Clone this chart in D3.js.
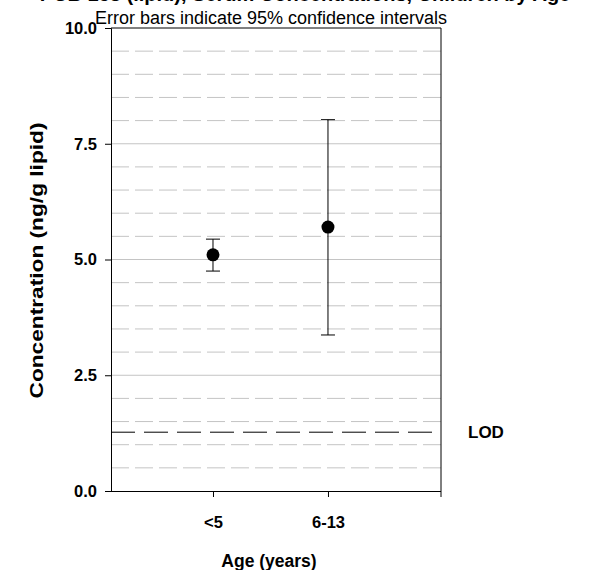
<!DOCTYPE html>
<html>
<head>
<meta charset="utf-8">
<script src="https://cdn.jsdelivr.net/npm/d3@7"></script>
<style>
  body { margin: 0; background: #fff; }
  svg { font-family: "Liberation Sans", Arial, sans-serif; }
</style>
</head>
<body>
<svg id="chart" width="613" height="570"></svg>
<script>
const categories = ["<5", "6-13"];
const means = [5.10, 5.70];
const lower = [4.75, 3.37];
const upper = [5.44, 8.02];
const lod = 1.27;
const yTicks = [0, 2.5, 5, 7.5, 10];
const yTickLabels = ["0.0", "2.5", "5.0", "7.5", "10.0"];
const minorGrid = [0.5, 1, 1.5, 2, 3, 3.5, 4, 4.5, 5.5, 6, 6.5, 7, 8, 8.5, 9, 9.5];
const majorGrid = [2.5, 5, 7.5];
const titleText = "PCB 153 (lipid), Serum Concentrations, Children by Age";
const subtitleText = "Error bars indicate 95% confidence intervals";

const svg = d3.select("#chart");
const L = 111, R = 441, T = 28, B = 491;
const FONT = "Liberation Sans, Arial, sans-serif";

const y = d3.scaleLinear().domain([0, 10]).range([B, T]);
const x = d3.scaleLinear().domain([0.113, 2.983]).range([L, R]);
const xPos = i => x(i + 1);

// gridlines
svg.append("g").selectAll("line").data(minorGrid).join("line")
  .attr("x1", L).attr("x2", R)
  .attr("y1", d => y(d)).attr("y2", d => y(d))
  .attr("stroke", "#c4c4c4").attr("stroke-width", 1)
  .attr("stroke-dasharray", "18,6");
svg.append("g").selectAll("line").data(majorGrid).join("line")
  .attr("x1", L).attr("x2", R)
  .attr("y1", d => y(d)).attr("y2", d => y(d))
  .attr("stroke", "#c4c4c4").attr("stroke-width", 1);

// LOD line
svg.append("line")
  .attr("x1", L).attr("x2", R)
  .attr("y1", y(lod)).attr("y2", y(lod))
  .attr("stroke", "#000").attr("stroke-width", 1)
  .attr("stroke-dasharray", "24,9");
svg.append("text")
  .attr("x", 468).attr("y", y(lod) + 6)
  .attr("font-size", 17).attr("font-weight", "bold")
  .text("LOD");

// frame
svg.append("line").attr("x1", L).attr("x2", R).attr("y1", T).attr("y2", T).attr("stroke", "#000");
svg.append("line").attr("x1", R).attr("x2", R).attr("y1", T).attr("y2", B).attr("stroke", "#000");

// y axis
const yAxis = d3.axisLeft(y).tickValues(yTicks)
  .tickFormat((d, i) => yTickLabels[i]).tickSize(6).tickPadding(8);
const gy = svg.append("g").attr("transform", `translate(${L},0)`).call(yAxis);
gy.select(".domain").attr("stroke", "#000");
gy.selectAll("text").attr("font-size", 16.5).attr("font-weight", "bold")
  .attr("font-family", FONT).attr("fill", "#000");

// x axis
const xAxis = d3.axisBottom(x).tickValues([1, 2])
  .tickFormat((d, i) => categories[i]).tickSize(6).tickPadding(19);
const gx = svg.append("g").attr("transform", `translate(0,${B})`).call(xAxis);
gx.select(".domain").attr("d", `M${L},0.5H${R}`).attr("stroke", "#000");
gx.selectAll("text").attr("font-size", 16.5).attr("font-weight", "bold")
  .attr("font-family", FONT).attr("fill", "#000");
gx.append("line").attr("x1", R).attr("x2", R).attr("y1", 0).attr("y2", 6).attr("stroke", "#000");

// error bars
const eb = svg.append("g");
categories.forEach((c, i) => {
  const cx = xPos(i);
  eb.append("line").attr("x1", cx).attr("x2", cx)
    .attr("y1", y(upper[i])).attr("y2", y(lower[i])).attr("stroke", "#000");
  [upper[i], lower[i]].forEach(v => {
    eb.append("line").attr("x1", cx - 7).attr("x2", cx + 7)
      .attr("y1", y(v)).attr("y2", y(v)).attr("stroke", "#000");
  });
});
svg.append("g").selectAll("circle").data(means).join("circle")
  .attr("cx", (d, i) => xPos(i)).attr("cy", d => y(d)).attr("r", 6.5)
  .attr("fill", "#000");

// titles
svg.append("text").attr("x", 305).attr("y", 1)
  .attr("text-anchor", "middle").attr("font-size", 20).attr("font-weight", "bold")
  .text(titleText);
svg.append("text").attr("x", 271).attr("y", 24)
  .attr("text-anchor", "middle").attr("font-size", 18)
  .text(subtitleText);

// axis labels
svg.append("text")
  .attr("transform", `translate(43,${(T + B) / 2 + 1}) rotate(-90)`)
  .attr("text-anchor", "middle").attr("font-size", 18).attr("font-weight", "bold")
  .attr("textLength", 276).attr("lengthAdjust", "spacingAndGlyphs")
  .text("Concentration (ng/g lipid)");
svg.append("text").attr("x", 269).attr("y", 567)
  .attr("text-anchor", "middle").attr("font-size", 17.5).attr("font-weight", "bold")
  .text("Age (years)");
</script>
</body>
</html>
